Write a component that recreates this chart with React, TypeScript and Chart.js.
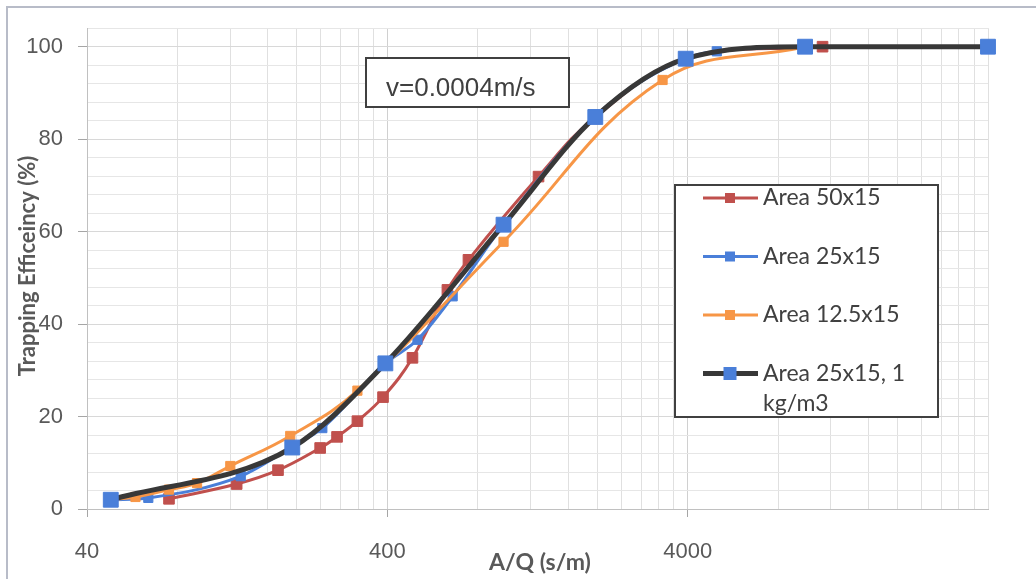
import React, { useEffect, useRef } from 'react';
import { Chart, registerables } from 'chart.js';

Chart.register(...registerables);

// ---------- data ----------
const seriesNames = ['Area 50x15', 'Area 25x15', 'Area 12.5x15', 'Area 25x15, 1 kg/m3'];

const redX = [75, 126, 173, 239, 272, 318, 387, 485, 634, 745, 1275, 1950, 3940, 11250];
const redY = [2.2, 5.4, 8.4, 13.2, 15.6, 19, 24.2, 32.7, 47.4, 53.9, 71.9, 84.5, 97.3, 100];

const blueX = [48, 64, 130, 193, 243, 394, 504, 660, 975, 1970, 3940, 5000, 9840, 40000];
const blueY = [2, 2.4, 7.1, 13.5, 17.5, 31.5, 36.6, 46, 61.5, 85, 97.5, 99, 100, 100];

const orangeX = [48, 58, 75, 93, 120, 190, 318, 975, 3300, 9840];
const orangeY = [2, 2.6, 4.2, 5.6, 9.3, 15.8, 25.6, 57.8, 92.8, 100];

const darkX = [48, 193, 394, 975, 1970, 3940, 9840, 40000];
const darkY = [2, 13.3, 31.5, 61.5, 84.8, 97.4, 100, 100];

const xTickLabels = [40, 400, 4000];
const xDecadeStarts = [40, 400, 4000];
const xMin = 40;
const xMax = 40000;
const yTickLabels = [0, 20, 40, 60, 80, 100];
const yMin = 0;
const yMax = 104;
const yMinorStep = 4;

const noteText = 'v=0.0004m/s';
const xTitle = 'A/Q (s/m)';
const yTitle = 'Trapping Efficeincy (%)';

// ---------- style ----------
const W = 1036;
const H = 579;
const RED = '#C0504D';
const BLUE = '#4A7FD9';
const ORANGE = '#F79646';
const DARK = '#383838';
const TEXT = '#404040';
const TICK_TEXT = '#595959';

const toPoints = (xs: number[], ys: number[]) => xs.map((x, i) => ({ x, y: ys[i] }));

const xGridValues: number[] = [];
xDecadeStarts.forEach((d) => {
  for (let k = 1; k <= 9; k++) xGridValues.push(d * k);
});
xGridValues.push(xMax);

const yGridValues: number[] = [];
for (let v = yMin; v <= yMax; v += yMinorStep) yGridValues.push(v);

const legendStyles = [
  { line: RED, marker: RED, lw: 3, size: 10 },
  { line: BLUE, marker: BLUE, lw: 3, size: 10 },
  { line: ORANGE, marker: ORANGE, lw: 3, size: 10 },
  { line: DARK, marker: BLUE, lw: 5, size: 13 },
];

function wrapText(ctx: CanvasRenderingContext2D, text: string, maxW: number): string[] {
  const words = text.split(' ');
  const lines: string[] = [];
  let cur = '';
  words.forEach((w) => {
    const test = cur ? cur + ' ' + w : w;
    if (ctx.measureText(test).width > maxW && cur) {
      lines.push(cur);
      cur = w;
    } else cur = test;
  });
  if (cur) lines.push(cur);
  return lines;
}

const decorPlugin = {
  id: 'decor',
  beforeDraw(chart: any) {
    const ctx: CanvasRenderingContext2D = chart.ctx;
    ctx.save();
    ctx.fillStyle = '#ffffff';
    ctx.fillRect(0, 0, W, H);
    ctx.strokeStyle = '#B8BCC8';
    ctx.lineWidth = 2;
    ctx.beginPath();
    ctx.moveTo(7, H);
    ctx.lineTo(7, 7);
    ctx.lineTo(W, 7);
    ctx.stroke();
    ctx.restore();
  },
  afterDraw(chart: any) {
    const ctx: CanvasRenderingContext2D = chart.ctx;
    ctx.save();

    // note box
    ctx.fillStyle = '#ffffff';
    ctx.fillRect(366, 58, 203, 49);
    ctx.strokeStyle = '#404040';
    ctx.lineWidth = 2;
    ctx.strokeRect(366, 58, 203, 49);
    ctx.fillStyle = TEXT;
    ctx.font = '26px "Liberation Sans", Arial, sans-serif';
    ctx.textAlign = 'left';
    ctx.textBaseline = 'middle';
    ctx.fillText(noteText, 386, 89);

    // legend
    const lx = 675, ly = 185, lw = 263, lh = 232;
    ctx.fillStyle = '#ffffff';
    ctx.fillRect(lx, ly, lw, lh);
    ctx.strokeStyle = '#404040';
    ctx.lineWidth = 2;
    ctx.strokeRect(lx, ly, lw, lh);
    ctx.font = '23px Lato, "Open Sans", sans-serif';
    seriesNames.forEach((name, i) => {
      const st = legendStyles[i];
      const cy = 198 + i * 58.5;
      ctx.strokeStyle = st.line;
      ctx.lineWidth = st.lw;
      ctx.beginPath();
      ctx.moveTo(703, cy);
      ctx.lineTo(758, cy);
      ctx.stroke();
      ctx.fillStyle = st.marker;
      ctx.fillRect(730 - st.size / 2, cy - st.size / 2, st.size, st.size);
      ctx.fillStyle = TEXT;
      ctx.textAlign = 'left';
      ctx.textBaseline = 'middle';
      const lines = wrapText(ctx, name, 165);
      lines.forEach((ln, j) => ctx.fillText(ln, 763, cy + j * 30));
    });

    // axis titles
    ctx.fillStyle = TICK_TEXT;
    ctx.font = 'bold 23px Lato, "Open Sans", sans-serif';
    ctx.textAlign = 'center';
    ctx.textBaseline = 'middle';
    ctx.fillText(xTitle, 540, 563);
    ctx.save();
    ctx.font = 'bold 22px Lato, "Open Sans", sans-serif';
    ctx.translate(28, 266);
    ctx.rotate(-Math.PI / 2);
    ctx.fillText(yTitle, 0, 0);
    ctx.restore();

    ctx.restore();
  },
};

export default function App() {
  const ref = useRef<HTMLCanvasElement | null>(null);

  useEffect(() => {
    if (!ref.current) return;
    const common = {
      tension: 0.4,
      pointStyle: 'rect' as const,
      clip: false as any,
      pointBorderWidth: 1,
    };
    const chart = new Chart(ref.current, {
      type: 'line',
      data: {
        datasets: [
          {
            ...common,
            label: seriesNames[0],
            data: toPoints(redX, redY),
            borderColor: RED,
            backgroundColor: RED,
            pointBackgroundColor: RED,
            pointBorderColor: RED,
            borderWidth: 3,
            pointRadius: 7.5,
            order: 3,
          },
          {
            ...common,
            label: seriesNames[1],
            data: toPoints(blueX, blueY),
            borderColor: BLUE,
            backgroundColor: BLUE,
            pointBackgroundColor: BLUE,
            pointBorderColor: BLUE,
            borderWidth: 3,
            pointRadius: 6.5,
            cubicInterpolationMode: 'monotone',
            order: 2,
          },
          {
            ...common,
            label: seriesNames[2],
            data: toPoints(orangeX, orangeY),
            borderColor: ORANGE,
            backgroundColor: ORANGE,
            pointBackgroundColor: ORANGE,
            pointBorderColor: ORANGE,
            borderWidth: 3,
            pointRadius: 6.5,
            order: 1,
          },
          {
            ...common,
            label: seriesNames[3],
            data: toPoints(darkX, darkY),
            borderColor: DARK,
            backgroundColor: BLUE,
            pointBackgroundColor: BLUE,
            pointBorderColor: BLUE,
            borderWidth: 5,
            pointRadius: 10.5,
            cubicInterpolationMode: 'monotone',
            order: 0,
          },
        ],
      },
      options: {
        responsive: false,
        animation: false,
        devicePixelRatio: 1,
        layout: { padding: { top: 28, right: 48, left: 0, bottom: 0 } },
        plugins: { legend: { display: false }, tooltip: { enabled: false } },
        scales: {
          x: {
            type: 'logarithmic',
            min: xMin,
            max: xMax,
            afterBuildTicks: (s: any) => {
              s.ticks = xGridValues.map((v) => ({ value: v }));
            },
            afterFit: (s: any) => {
              s.height = 70;
            },
            ticks: {
              autoSkip: false,
              maxRotation: 0,
              minRotation: 0,
              padding: 22,
              color: TICK_TEXT,
              font: { family: '"Liberation Sans", Arial, sans-serif', size: 22 },
              callback: (v: any) => (xTickLabels.includes(Number(v)) ? String(v) : ''),
            },
            grid: {
              color: (c: any) => (xTickLabels.includes(c.tick?.value) ? '#D0D0D0' : '#E0E0E0'),
              lineWidth: 1,
              tickLength: 8,
              tickColor: (c: any) => (xTickLabels.includes(c.tick?.value) ? '#A6A6A6' : 'rgba(0,0,0,0)'),
            },
            border: { color: '#C0C0C0', width: 1 },
          },
          y: {
            type: 'linear',
            min: yMin,
            max: yMax,
            afterBuildTicks: (s: any) => {
              s.ticks = yGridValues.map((v) => ({ value: v }));
            },
            afterFit: (s: any) => {
              s.width = 87;
            },
            ticks: {
              autoSkip: false,
              padding: 15,
              color: TICK_TEXT,
              font: { family: '"Liberation Sans", Arial, sans-serif', size: 22 },
              callback: (v: any) => (yTickLabels.includes(Number(v)) ? String(v) : ''),
            },
            grid: {
              color: (c: any) => (yTickLabels.includes(c.tick?.value) ? '#D8D8D8' : '#E6E6E6'),
              lineWidth: 1,
              tickLength: 9,
              tickColor: (c: any) => (yTickLabels.includes(c.tick?.value) ? '#A6A6A6' : 'rgba(0,0,0,0)'),
            },
            border: { color: '#C0C0C0', width: 1 },
          },
        },
      },
      plugins: [decorPlugin],
    } as any);
    return () => chart.destroy();
  }, []);

  return (
    <div style={{ position: 'absolute', left: 0, top: 0, width: W, height: H }}>
      <canvas ref={ref} width={W} height={H} style={{ display: 'block', width: W, height: H }} />
    </div>
  );
}
